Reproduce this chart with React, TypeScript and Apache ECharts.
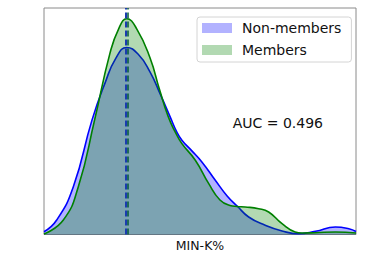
import React, { useEffect, useRef } from "react";
import * as echarts from "echarts";

// MIN-K% (normalised 0..100) and density for each group
const nonMemberX = [0, 4.07, 9.4, 15.4, 19.55, 23.0, 26.5, 30.2, 33.97, 37.3, 40.4, 42.5, 44.2, 47.1, 50.6, 54.9, 58.7, 61.9, 65.6, 70.9, 76.3, 81.6, 87, 93.4, 97.7, 100];
const nonMemberY = [0.028, 0.145, 0.478, 1.145, 1.512, 1.76, 1.868, 1.8, 1.625, 1.4, 1.178, 1.028, 0.942, 0.845, 0.725, 0.542, 0.385, 0.285, 0.175, 0.092, 0.035, 0.008, 0.032, 0.075, 0.058, 0.03];
const memberX = [0, 6.2, 11.0, 16.3, 21.15, 24.0, 26.5, 29.8, 33.97, 37.0, 39.8, 42.0, 44.2, 48.5, 52.8, 56.4, 59.6, 61.9, 64.5, 68.8, 72.0, 76.3, 80.5, 82.7, 87, 93.4, 100];
const memberY = [0.005, 0.145, 0.478, 1.155, 1.812, 2.06, 2.155, 2.05, 1.765, 1.45, 1.178, 1.028, 0.908, 0.742, 0.508, 0.345, 0.29, 0.28, 0.275, 0.258, 0.225, 0.108, 0.025, 0.015, 0.018, 0.025, 0.015];
const nonMemberMedian = 26.3;
const memberMedian = 26.75;
const seriesNames = ["Non-members", "Members"];
const aucText = "AUC = 0.496";
const xAxisName = "MIN-K%";

export default function App() {
  const ref = useRef<HTMLDivElement>(null);
  useEffect(() => {
    if (!ref.current) return;
    const chart = echarts.init(ref.current, null, { renderer: "svg" });
    const font = "DejaVu Sans";
    const ymax = 2.155 * 1.05;
    chart.setOption({
      animation: false,
      grid: {
        left: 44,
        right: 9,
        top: 8,
        bottom: 39.5,
        show: true,
        borderColor: "#8a8a8a",
        borderWidth: 1,
        backgroundColor: "transparent",
      },
      xAxis: {
        type: "value",
        min: 0,
        max: 100,
        axisLine: { show: false },
        axisTick: { show: false },
        axisLabel: { show: false },
        splitLine: { show: false },
        name: xAxisName,
        nameLocation: "middle",
        nameGap: 4,
        nameTextStyle: {
          fontFamily: font,
          fontSize: 12.5,
          color: "#111",
          verticalAlign: "top",
        },
      },
      yAxis: {
        type: "value",
        min: 0,
        max: ymax,
        axisLine: { show: false },
        axisTick: { show: false },
        axisLabel: { show: false },
        splitLine: { show: false },
      },
      legend: {
        orient: "vertical",
        left: 197,
        top: 17,
        padding: [3, 10, 4, 5],
        itemGap: 6,
        itemWidth: 30,
        itemHeight: 10,
        itemStyle: { borderWidth: 0 },
        backgroundColor: "rgba(255,255,255,0.8)",
        borderColor: "#d4d4d4",
        borderWidth: 1,
        borderRadius: 3,
        textStyle: { fontFamily: font, fontSize: 14, color: "#111", lineHeight: 16, padding: [0, 0, 0, 5] },
        data: [
          { name: seriesNames[0], icon: "rect", itemStyle: { color: "rgba(0,0,255,0.3)" } },
          { name: seriesNames[1], icon: "rect", itemStyle: { color: "rgba(0,128,0,0.3)" } },
        ],
      },
      series: [
        {
          name: seriesNames[0],
          type: "line",
          data: nonMemberX.map((x, i) => [x, nonMemberY[i]]),
          smooth: 0.5,
          showSymbol: false,
          symbol: "none",
          color: "#0000ff",
          lineStyle: { color: "#0000ff", width: 1.6 },
          areaStyle: { color: "#0000ff", opacity: 0.3 },
          markLine: {
            silent: true,
            symbol: "none",
            label: { show: false },
            lineStyle: { color: "#1a3cb0", width: 2, type: [6, 3] },
            data: [{ xAxis: nonMemberMedian }],
          },
          z: 2,
        },
        {
          name: seriesNames[1],
          type: "line",
          data: memberX.map((x, i) => [x, memberY[i]]),
          smooth: 0.5,
          showSymbol: false,
          symbol: "none",
          color: "#008000",
          lineStyle: { color: "#008000", width: 1.6 },
          areaStyle: { color: "#008000", opacity: 0.3 },
          markLine: {
            silent: true,
            symbol: "none",
            label: { show: false },
            lineStyle: { color: "#005a3a", width: 1.5, type: [6, 3] },
            data: [{ xAxis: memberMedian }],
          },
          z: 3,
        },
      ],
      graphic: [
        {
          type: "text",
          left: 232.7,
          top: 116,
          style: { text: aucText, fontFamily: font, fontSize: 14, fill: "#111" },
        },
      ],
    });
    return () => chart.dispose();
  }, []);
  return <div ref={ref} style={{ width: 365, height: 274, position: "absolute", left: 0, top: 0 }} />;
}
